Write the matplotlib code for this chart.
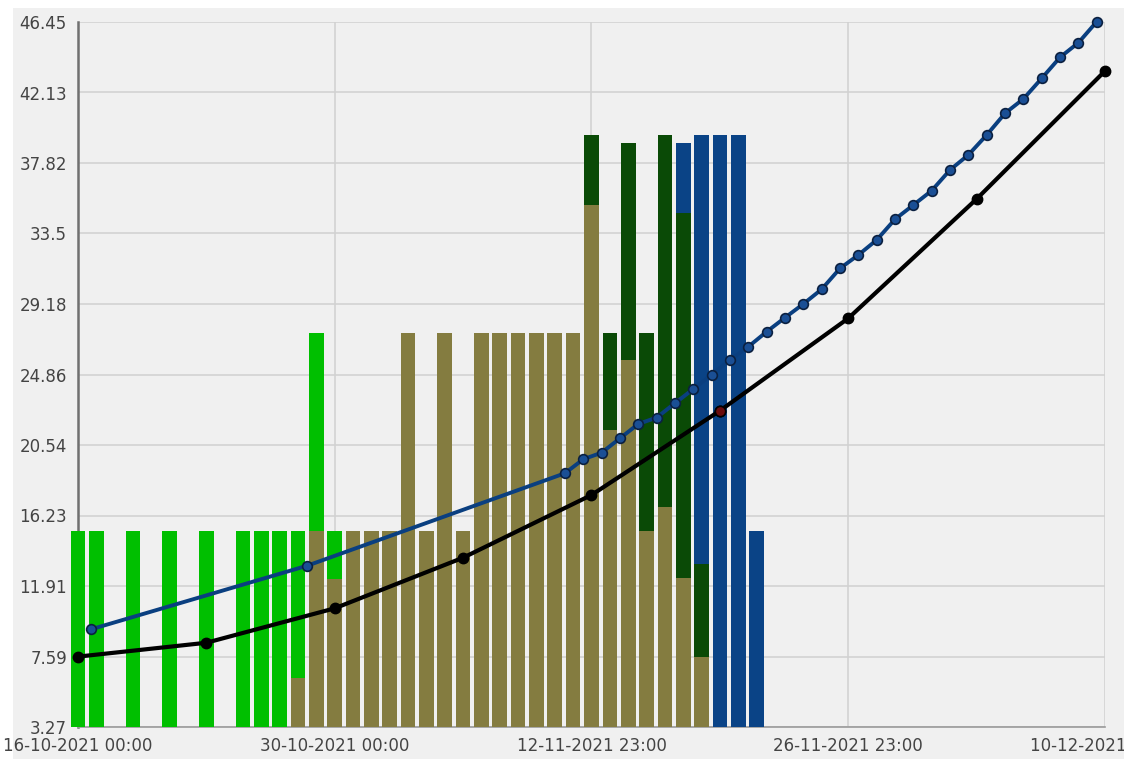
import numpy as np
import matplotlib
matplotlib.use("Agg")
import matplotlib.pyplot as plt
from matplotlib.patches import Rectangle

# day index of each bar (0 = 16-10-2021)
bar_days = list(range(38))

# stacked segment heights per day
olive = [0, 0, 0, 0, 0, 0, 0, 0, 0, 0, 0, 0, 6.27, 15.3, 12.34, 15.3, 15.3, 15.3, 27.4, 15.3,
         27.4, 15.3, 27.4, 27.4, 27.4, 27.4, 27.4, 27.4, 35.24, 21.46, 25.75, 15.3, 16.73, 12.38,
         7.58, 0, 0, 0]
green = [15.3, 15.3, 0, 15.3, 0, 15.3, 0, 15.3, 0, 15.3, 15.3, 15.3, 9.03, 12.1, 2.96, 0, 0, 0, 0, 0,
         0, 0, 0, 0, 0, 0, 0, 0, 0, 0, 0, 0, 0, 0,
         0, 0, 0, 0]
dark_green = [0] * 28 + [4.29, 5.94, 13.31, 12.1, 22.8, 22.35, 5.66, 0, 0, 0]
blue = [0] * 33 + [4.33, 26.29, 39.53, 39.53, 15.3]

# weekly line (black)
black_days = [0, 7, 14, 21, 28, 35, 42, 49, 56]
black_vals = [7.58, 8.43, 10.54, 13.64, 17.48, 22.64, 28.30, 35.61, 43.45]

# daily line (blue)
blue_days = [0.7, 12.5] + [26.55 + i for i in range(30)]
blue_vals = [9.25, 13.15, 18.81, 19.67, 20.07, 20.95, 21.83, 22.22, 23.10, 23.97, 24.85, 25.75,
             26.56, 27.48, 28.34, 29.18, 30.08, 31.36, 32.18, 33.10, 34.37, 35.24, 36.12, 37.39,
             38.31, 39.53, 40.86, 41.74, 43.00, 44.29, 45.18, 46.47]

x_ticks = [0, 14, 28, 42, 56]
x_labels = ["16-10-2021 00:00", "30-10-2021 00:00", "12-11-2021 23:00",
            "26-11-2021 23:00", "10-12-2021 23:00"]
y_ticks = np.linspace(3.27, 46.45, 11)
y_labels = ["3.27", "7.59", "11.91", "16.23", "20.54", "24.86", "29.18", "33.5", "37.82",
            "42.13", "46.45"]

fig = plt.figure(figsize=(11.24, 7.59), dpi=100, facecolor="white")
fig.patches.append(Rectangle((13 / 1124, 0), 1, (759 - 8) / 759, transform=fig.transFigure,
                             facecolor="#f0f0f0", edgecolor="none", zorder=-10))
ax = fig.add_axes([78 / 1124, 32 / 759, 1027 / 1124, 705 / 759])
ax.set_facecolor("#f0f0f0")

# let the first bar poke out left of the axis like the original
clip = Rectangle((-0.01, 0), 1.02, 1, transform=ax.transAxes, facecolor="none")

w = 0.8
bottom = np.zeros(len(bar_days))
for vals, col in [(olive, "#847c40"), (green, "#00bf00"), (dark_green, "#0a4a06"), (blue, "#0a4386")]:
    v = np.array(vals)
    bars = ax.bar(bar_days, v, width=w, bottom=bottom, color=col, zorder=3)
    for b in bars:
        b.set_clip_path(clip)
    bottom += v

ax.plot(blue_days, blue_vals, color="#0a3f80", lw=2.8, marker="o", ms=7,
        mfc="#1a4f95", mec="#0b2040", mew=1.2, zorder=5, clip_on=False)
ax.plot(black_days, black_vals, color="black", lw=3, marker="o", ms=7.5,
        mfc="black", mec="black", zorder=4, clip_on=False)
# highlighted point
ax.plot([black_days[5]], [black_vals[5]], marker="o", ms=7.5, mfc="#6a0c0c", mec="black",
        mew=1.2, zorder=6, ls="none")

ax.set_xlim(0, 56)
ax.set_ylim(3.27, 46.45)
ax.set_xticks(x_ticks)
ax.set_xticklabels(x_labels)
ax.set_yticks(y_ticks)
ax.set_yticklabels(y_labels)
ax.tick_params(length=0, labelsize=12, labelcolor="#444444")
ax.tick_params(axis="y", pad=8)
ax.tick_params(axis="x", pad=7)
for lab in ax.get_xticklabels():
    lab.set_clip_on(False)

ax.grid(True, color="#d2d2d2", lw=1.2, zorder=0)
ax.set_axisbelow(True)
for s in ["top", "right"]:
    ax.spines[s].set_visible(False)
ax.spines["left"].set_color("#707070")
ax.spines["left"].set_linewidth(1.8)
ax.spines["left"].set_zorder(2)
ax.spines["bottom"].set_color("#9a9a9a")
ax.spines["bottom"].set_linewidth(1.2)

fig.savefig("out.png", dpi=100, facecolor=fig.get_facecolor())
